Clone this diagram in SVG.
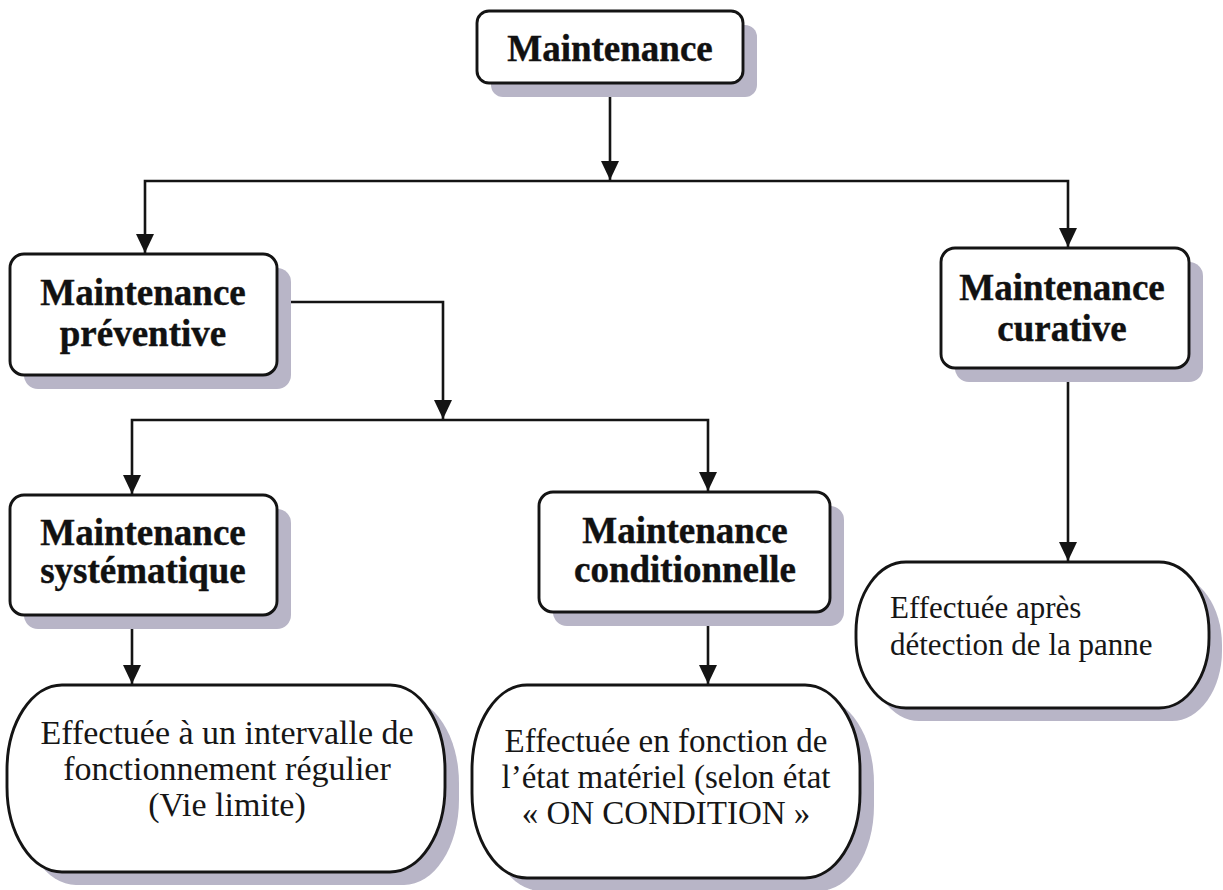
<svg xmlns="http://www.w3.org/2000/svg" width="1223" height="890" viewBox="0 0 1223 890">
  <style>
    .box { fill: #ffffff; stroke: #141414; stroke-width: 2.9; }
    .shadow { fill: #b8b5c7; stroke: none; }
    .wire { fill: none; stroke: #141414; stroke-width: 2.6; }
    .title { font-family: "Liberation Serif", "Times New Roman", serif; font-weight: bold; font-size: 37px; fill: #111111; text-anchor: middle; stroke: #111111; stroke-width: 0.4; }
    .note { font-family: "Liberation Serif", "Times New Roman", serif; font-size: 34px; fill: #161616; text-anchor: middle; }
    .note-left { font-family: "Liberation Serif", "Times New Roman", serif; font-size: 31px; fill: #161616; }
  </style>
  <defs>
    <marker id="arrow" markerUnits="userSpaceOnUse" markerWidth="22" markerHeight="20" refX="19" refY="9" orient="auto">
      <path d="M0,0 L19,9 L0,18 Z" fill="#141414"/>
    </marker>
  </defs>

  <rect width="1223" height="890" fill="#ffffff"/>

  <!-- connectors -->
  <g id="connectors">
    <path class="wire" d="M610,83 V180" marker-end="url(#arrow)"/>
    <path class="wire" d="M610,181 H145 V253" marker-end="url(#arrow)"/>
    <path class="wire" d="M610,181 H1068 V247" marker-end="url(#arrow)"/>
    <path class="wire" d="M277,302 H443 V419" marker-end="url(#arrow)"/>
    <path class="wire" d="M443,420 H132 V494" marker-end="url(#arrow)"/>
    <path class="wire" d="M443,420 H708 V491" marker-end="url(#arrow)"/>
    <path class="wire" d="M132,615 V684" marker-end="url(#arrow)"/>
    <path class="wire" d="M708,612 V684" marker-end="url(#arrow)"/>
    <path class="wire" d="M1068,368 V561" marker-end="url(#arrow)"/>
  </g>

  <!-- top level -->
  <g id="node-maintenance">
    <rect class="shadow" x="491" y="25" width="266" height="72" rx="12"/>
    <rect class="box" x="477" y="11" width="266" height="72" rx="12"/>
    <text class="title" x="610" y="61">Maintenance</text>
  </g>

  <g id="node-preventive">
    <rect class="shadow" x="24" y="268" width="267" height="121" rx="14"/>
    <rect class="box" x="10" y="254" width="267" height="121" rx="14"/>
    <text class="title" x="143" y="305">Maintenance</text>
    <text class="title" x="143" y="346">préventive</text>
  </g>

  <g id="node-curative">
    <rect class="shadow" x="955" y="262" width="248" height="120" rx="14"/>
    <rect class="box" x="941" y="248" width="248" height="120" rx="14"/>
    <text class="title" x="1062" y="300">Maintenance</text>
    <text class="title" x="1062" y="341">curative</text>
  </g>

  <g id="node-systematique">
    <rect class="shadow" x="24" y="509" width="267" height="120" rx="14"/>
    <rect class="box" x="10" y="495" width="267" height="120" rx="14"/>
    <text class="title" x="143" y="545">Maintenance</text>
    <text class="title" x="143" y="583">systématique</text>
  </g>

  <g id="node-conditionnelle">
    <rect class="shadow" x="553" y="506" width="291" height="120" rx="14"/>
    <rect class="box" x="539" y="492" width="291" height="120" rx="14"/>
    <text class="title" x="685" y="543">Maintenance</text>
    <text class="title" x="685" y="582">conditionnelle</text>
  </g>

  <!-- descriptions -->
  <g id="node-desc-systematique">
    <rect class="shadow" x="21" y="698" width="438" height="187" rx="55" ry="85"/>
    <rect class="box" x="7" y="685" width="438" height="187" rx="55" ry="85"/>
    <text class="note" x="227" y="744">Effectuée à un intervalle de</text>
    <text class="note" x="227" y="780">fonctionnement régulier</text>
    <text class="note" x="227" y="816">(Vie limite)</text>
  </g>

  <g id="node-desc-conditionnelle">
    <rect class="shadow" x="486" y="698" width="388" height="193" rx="55" ry="85"/>
    <rect class="box" x="472" y="685" width="388" height="193" rx="55" ry="85"/>
    <text class="note" x="666" y="752" style="font-size:33px">Effectuée en fonction de</text>
    <text class="note" x="666" y="788" style="font-size:33px">l’état matériel (selon état</text>
    <text class="note" x="666" y="824" style="font-size:33px">« ON CONDITION »</text>
  </g>

  <g id="node-desc-curative">
    <rect class="shadow" x="869" y="575" width="353" height="146" rx="50" ry="70"/>
    <rect class="box" x="856" y="562" width="353" height="146" rx="50" ry="70"/>
    <text class="note-left" x="890" y="618">Effectuée après</text>
    <text class="note-left" x="890" y="655">détection de la panne</text>
  </g>
</svg>
